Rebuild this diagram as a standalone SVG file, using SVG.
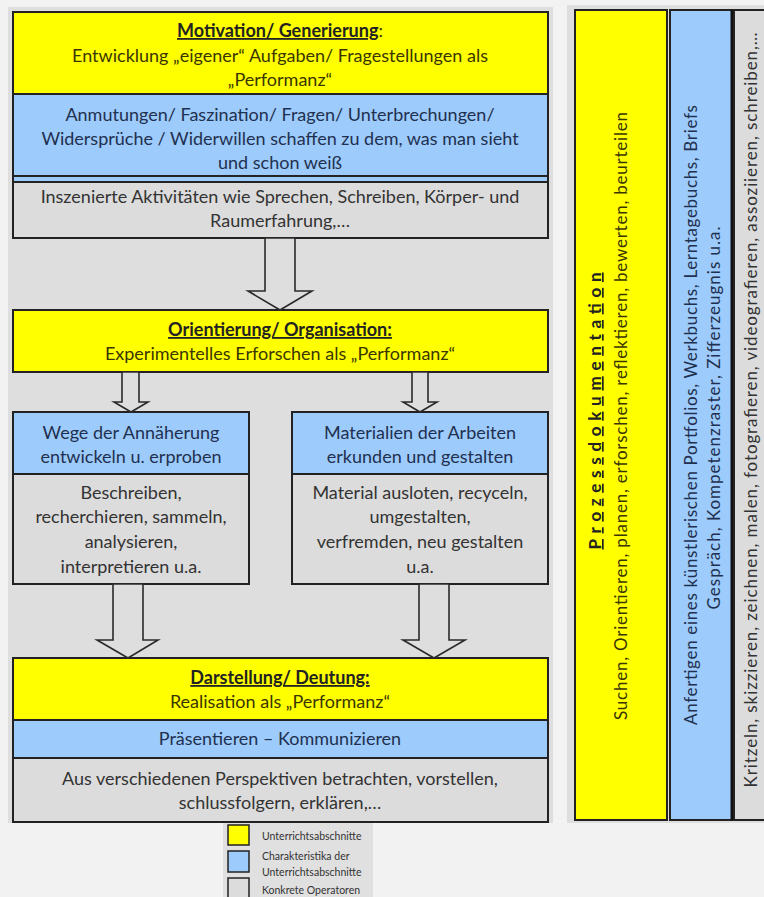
<svg xmlns="http://www.w3.org/2000/svg" width="764" height="897" viewBox="0 0 764 897">
  <style>
    text { font-family: Lato, "Open Sans", "Liberation Sans", sans-serif; }
    .t { font-size: 18px; text-anchor: middle; }
    .ty { fill: #3a3600; }
    .tb { fill: #1f3050; }
    .tg { fill: #333333; }
    .h { font-weight: bold; fill: #222222; text-decoration: underline; }
    .y { fill: #ffff00; }
    .b { fill: #9dcbfb; }
    .g { fill: #dcdcdc; }
    .box { fill: none; stroke: #222222; stroke-width: 2; }
    .sep { stroke: #222222; stroke-width: 2; }
    .arrow { fill: #dedede; stroke: #2a2a2a; stroke-width: 1.6; stroke-linejoin: miter; }
    .leg { font-size: 10.5px; fill: #333333; }
    .rot { font-size: 17px; text-anchor: middle; }
  </style>

  <!-- page and panel backgrounds -->
  <rect x="0" y="0" width="764" height="897" fill="#f2f2f2"/>
  <rect x="8" y="7" width="545" height="816" fill="#dedede"/>
  <rect x="567" y="5" width="197" height="818" fill="#dedede"/>

  <!-- phase 1 -->
  <g id="motivation">
    <rect class="y" x="13" y="12" width="535" height="82"/>
    <rect class="b" x="13" y="94" width="535" height="88"/>
    <rect class="g" x="13" y="182" width="535" height="56"/>
    <line class="sep" x1="13" y1="94" x2="548" y2="94"/>
    <line class="sep" x1="13" y1="176" x2="548" y2="176"/>
    <line class="sep" x1="13" y1="182" x2="548" y2="182"/>
    <rect class="box" x="13" y="12" width="535" height="226"/>
    <text class="t" x="280" y="37"><tspan class="h">Motivation/ Generierung</tspan><tspan class="ty">:</tspan></text>
    <text class="t ty" x="280" y="62">Entwicklung „eigener“ Aufgaben/ Fragestellungen als</text>
    <text class="t ty" x="280" y="86">„Performanz“</text>
    <text class="t tb" x="280" y="121">Anmutungen/ Faszination/ Fragen/  Unterbrechungen/</text>
    <text class="t tb" x="280" y="145">Widersprüche / Widerwillen schaffen zu dem, was man sieht</text>
    <text class="t tb" x="280" y="169">und schon weiß</text>
    <text class="t tg" x="280" y="203">Inszenierte Aktivitäten wie Sprechen, Schreiben, Körper- und</text>
    <text class="t tg" x="280" y="227">Raumerfahrung,…</text>
  </g>

  <!-- phase 2 -->
  <g id="orientierung">
    <rect class="y" x="13" y="310" width="535" height="62"/>
    <rect class="box" x="13" y="310" width="535" height="62"/>
    <text class="t h" x="280" y="336">Orientierung/ Organisation:</text>
    <text class="t ty" x="280" y="360">Experimentelles Erforschen als „Performanz“</text>
  </g>

  <g id="wege">
    <rect class="b" x="13" y="412" width="236" height="62"/>
    <rect class="g" x="13" y="474" width="236" height="110"/>
    <line class="sep" x1="13" y1="474" x2="249" y2="474"/>
    <rect class="box" x="13" y="412" width="236" height="172"/>
    <text class="t tb" x="131" y="439">Wege der Annäherung</text>
    <text class="t tb" x="131" y="463">entwickeln u. erproben</text>
    <text class="t tg" x="131" y="499">Beschreiben,</text>
    <text class="t tg" x="131" y="523">recherchieren, sammeln,</text>
    <text class="t tg" x="131" y="548">analysieren,</text>
    <text class="t tg" x="131" y="573">interpretieren u.a.</text>
  </g>

  <g id="materialien">
    <rect class="b" x="292" y="412" width="256" height="62"/>
    <rect class="g" x="292" y="474" width="256" height="110"/>
    <line class="sep" x1="292" y1="474" x2="548" y2="474"/>
    <rect class="box" x="292" y="412" width="256" height="172"/>
    <text class="t tb" x="420" y="439">Materialien der Arbeiten</text>
    <text class="t tb" x="420" y="463">erkunden und gestalten</text>
    <text class="t tg" x="420" y="499">Material ausloten, recyceln,</text>
    <text class="t tg" x="420" y="523">umgestalten,</text>
    <text class="t tg" x="420" y="548">verfremden, neu gestalten</text>
    <text class="t tg" x="420" y="573">u.a.</text>
  </g>

  <!-- phase 3 -->
  <g id="darstellung">
    <rect class="y" x="13" y="658" width="535" height="62"/>
    <rect class="b" x="13" y="720" width="535" height="38"/>
    <rect class="g" x="13" y="758" width="535" height="64"/>
    <line class="sep" x1="13" y1="720" x2="548" y2="720"/>
    <line class="sep" x1="13" y1="758" x2="548" y2="758"/>
    <rect class="box" x="13" y="658" width="535" height="164"/>
    <text class="t h" x="280" y="684">Darstellung/ Deutung:</text>
    <text class="t ty" x="280" y="708">Realisation als „Performanz“</text>
    <text class="t tb" x="280" y="745">Präsentieren – Kommunizieren</text>
    <text class="t tg" x="280" y="785">Aus verschiedenen Perspektiven betrachten, vorstellen,</text>
    <text class="t tg" x="280" y="809">schlussfolgern, erklären,…</text>
  </g>

  <!-- block arrows between phases -->
  <g id="connectors">
    <polygon class="arrow" points="265,238 295,238 295,291 312,291 280,310 248,291 265,291"/>
    <polygon class="arrow" points="122,372 139,372 139,402 148,402 131,412 114,402 122,402"/>
    <polygon class="arrow" points="412,372 428,372 428,402 437,402 420,412 403,402 412,402"/>
    <polygon class="arrow" points="113,584 143,584 143,640 158,640 128,658 97,640 113,640"/>
    <polygon class="arrow" points="419,584 449,584 449,640 465,640 434,658 403,640 419,640"/>
  </g>

  <!-- process documentation columns -->
  <g id="prozessdokumentation">
    <rect class="y" x="575" y="10" width="92" height="810"/>
    <rect class="box" x="575" y="10" width="92" height="810"/>
    <text class="rot h" transform="translate(601,411) rotate(-90)" font-size="15" textLength="277" lengthAdjust="spacing">Prozessdokumentation</text>
    <text class="rot ty" transform="translate(627,416) rotate(-90)" textLength="608" lengthAdjust="spacing">Suchen, Orientieren, planen, erforschen, reflektieren, bewerten, beurteilen</text>
  </g>

  <g id="portfolio">
    <rect class="b" x="670" y="10" width="62" height="810"/>
    <rect class="box" x="670" y="10" width="62" height="810"/>
    <line x1="732" y1="10" x2="732" y2="820" stroke="#111" stroke-width="3"/>
    <text class="rot tb" transform="translate(697,415) rotate(-90)" textLength="620" lengthAdjust="spacing">Anfertigen eines künstlerischen Portfolios, Werkbuchs, Lerntagebuchs, Briefs</text>
    <text class="rot tb" transform="translate(720,418) rotate(-90)" textLength="383" lengthAdjust="spacing">Gespräch, Kompetenzraster, Zifferzeugnis u.a.</text>
  </g>

  <g id="operatoren">
    <rect class="g" x="734" y="10" width="32" height="810"/>
    <rect class="box" x="734" y="10" width="34" height="810"/>
    <text class="rot tg" transform="translate(757,410) rotate(-90)" font-size="16.5" textLength="755" lengthAdjust="spacing">Kritzeln, skizzieren, zeichnen, malen, fotografieren, videografieren, assoziieren, schreiben,…</text>
  </g>

  <!-- legend -->
  <g id="legende">
    <rect x="223" y="823" width="150" height="74" fill="#e0e0e0"/>
    <rect x="228" y="825" width="21" height="20" fill="#ffff00" stroke="#222" stroke-width="1.5"/>
    <rect x="228" y="851" width="21" height="21" fill="#9dcbfb" stroke="#222" stroke-width="1.5"/>
    <rect x="228" y="878" width="21" height="21" fill="#dcdcdc" stroke="#222" stroke-width="1.5"/>
    <text class="leg" x="262" y="840">Unterrichtsabschnitte</text>
    <text class="leg" x="262" y="860">Charakteristika der</text>
    <text class="leg" x="262" y="876">Unterrichtsabschnitte</text>
    <text class="leg" x="262" y="894">Konkrete Operatoren</text>
  </g>
</svg>
